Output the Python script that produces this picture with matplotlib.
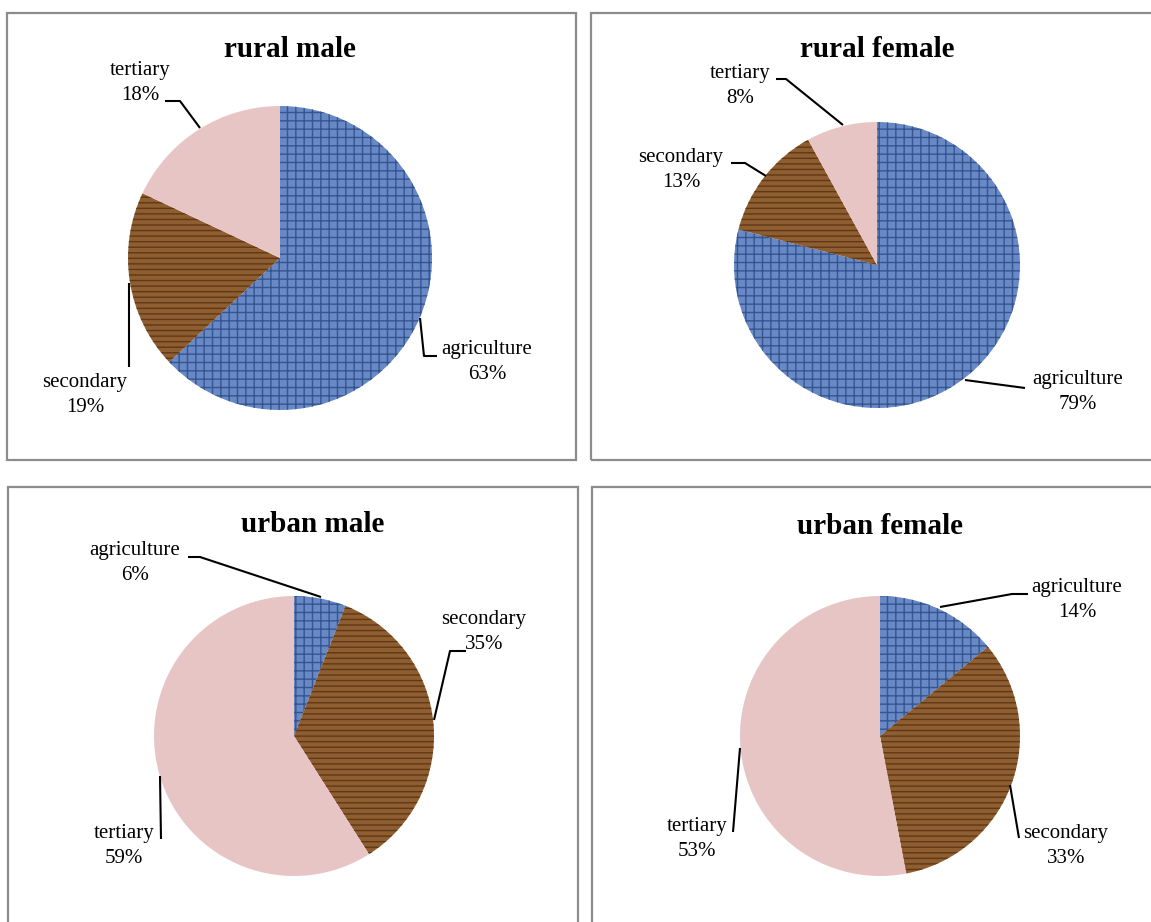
import matplotlib
matplotlib.use("Agg")
import matplotlib.pyplot as plt
from matplotlib.patches import Rectangle

plt.rcParams['font.family'] = ['Liberation Serif', 'DejaVu Serif']
plt.rcParams['hatch.linewidth'] = 1.0

# data
categories = ['agriculture', 'secondary', 'tertiary']
titles = ['rural male', 'rural female', 'urban male', 'urban female']
rural_male = [63, 19, 18]
rural_female = [79, 13, 8]
urban_male = [6, 35, 59]
urban_female = [14, 33, 53]
series = [rural_male, rural_female, urban_male, urban_female]

face_colors = ['#6889c6', '#8f5e30', '#e8c5c5']
hatch_colors = ['#34558f', '#5e3817', '#e8c5c5']
hatches = ['++', '---', None]

W, H = 1151, 922

# layout in pixel coords (y from top)
panels = [
    dict(box=(7, 13, 576, 460), center=(280, 258), r=152, title=(290, 50),
         labels=[(487, 362), (85, 395), (140, 83)],
         leaders=[[(420, 318), (424, 356), (437, 356)],
                  [(129, 283), (129, 367)],
                  [(165, 101), (180, 101), (200, 128)]]),
    dict(box=(591, 13, 1165, 460), center=(877, 265), r=143, title=(877, 50),
         labels=[(1078, 392), (681, 170), (740, 86)],
         leaders=[[(965, 380), (1025, 388)],
                  [(731, 163), (745, 163), (766, 176)],
                  [(776, 79), (786, 79), (843, 125)]]),
    dict(box=(8, 487, 578, 935), center=(294, 736), r=140, title=(313, 524),
         labels=[(135, 563), (484, 632), (124, 846)],
         leaders=[[(188, 557), (200, 557), (321, 597)],
                  [(466, 651), (450, 651), (434, 720)],
                  [(161, 839), (160, 776)]]),
    dict(box=(592, 487, 1165, 935), center=(880, 736), r=140, title=(880, 526),
         labels=[(1077, 600), (1066, 846), (697, 839)],
         leaders=[[(1028, 594), (1012, 594), (940, 607)],
                  [(1019, 838), (1010, 785)],
                  [(733, 832), (740, 748)]]),
]

fig = plt.figure(figsize=(W / 100, H / 100), dpi=100)
ax = fig.add_axes([0, 0, 1, 1])


def fy(y):
    return H - y


for p, vals, title in zip(panels, series, titles):
    x0, y0, x1, y1 = p['box']
    ax.add_patch(Rectangle((x0, fy(y1)), x1 - x0, y1 - y0, fill=False,
                           edgecolor='#8c8c8c', linewidth=1.6, zorder=1))
    cx, cy = p['center']
    wedges, _ = ax.pie(vals, center=(cx, fy(cy)), radius=p['r'], startangle=90,
                       counterclock=False, colors=face_colors, frame=True,
                       wedgeprops=dict(linewidth=0))
    for w, hc, h in zip(wedges, hatch_colors, hatches):
        w.set_edgecolor(hc)
        w.set_linewidth(0)
        if h:
            w.set_hatch(h)
    ax.text(p['title'][0], fy(p['title'][1]), title, ha='center', va='center',
            fontsize=21, fontweight='bold')
    for name, v, (lx, ly) in zip(categories, vals, p['labels']):
        ax.text(lx, fy(ly), f"{name}\n{v}%", ha='center', va='center',
                fontsize=15, linespacing=1.38)
    for path in p['leaders']:
        ax.plot([q[0] for q in path], [fy(q[1]) for q in path],
                color='black', linewidth=1.5, solid_capstyle='butt', zorder=5)

ax.set_xlim(0, W)
ax.set_ylim(0, H)
ax.set_aspect('equal')
ax.axis('off')
fig.savefig('out.png', dpi=100)
